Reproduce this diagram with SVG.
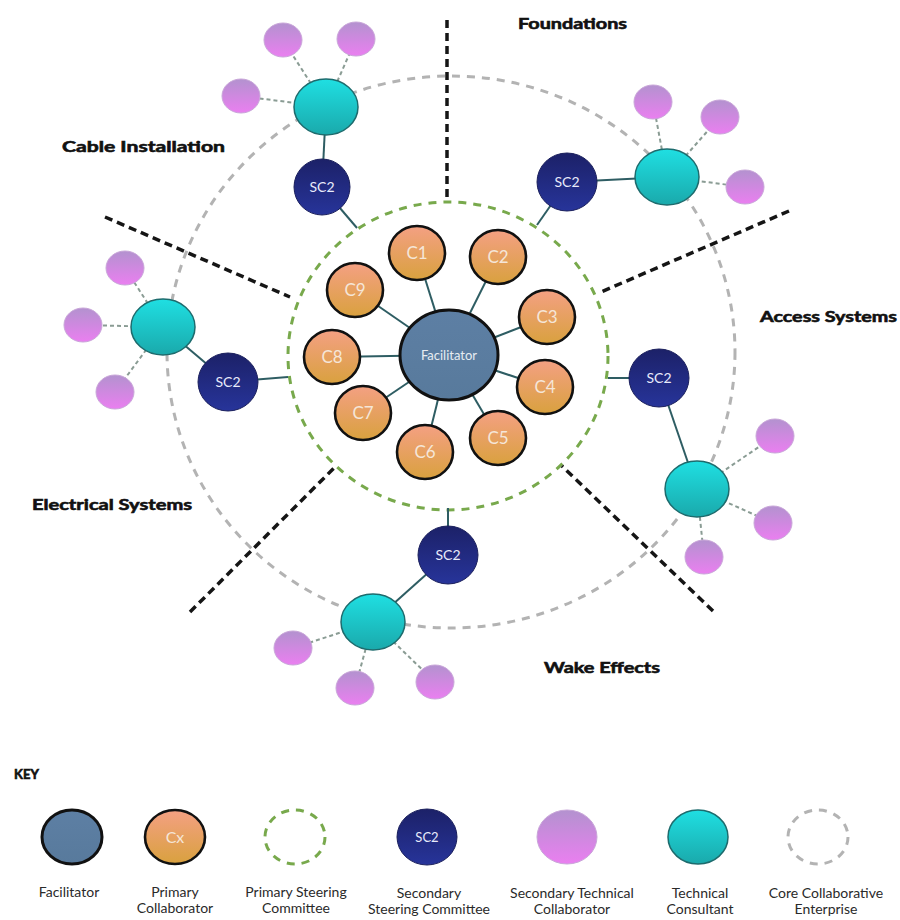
<svg xmlns="http://www.w3.org/2000/svg" width="900" height="920" viewBox="0 0 900 920">
  <defs>
    <linearGradient id="gCollab" x1="0" y1="0" x2="0" y2="1">
      <stop offset="0" stop-color="#f4a083"/>
      <stop offset="1" stop-color="#d9a13e"/>
    </linearGradient>
    <linearGradient id="gFacil" x1="0" y1="0" x2="0" y2="1">
      <stop offset="0" stop-color="#5d7fa4"/>
      <stop offset="1" stop-color="#587a9c"/>
    </linearGradient>
    <linearGradient id="gSC" x1="0" y1="0" x2="0" y2="1">
      <stop offset="0" stop-color="#1c2168"/>
      <stop offset="1" stop-color="#27349a"/>
    </linearGradient>
    <linearGradient id="gTeal" x1="0" y1="0" x2="0" y2="1">
      <stop offset="0" stop-color="#1fdfe2"/>
      <stop offset="1" stop-color="#1aa9ab"/>
    </linearGradient>
    <linearGradient id="gPink" x1="0" y1="0" x2="0" y2="1">
      <stop offset="0" stop-color="#b392cf"/>
      <stop offset="1" stop-color="#ea7ff0"/>
    </linearGradient>
  </defs>
  <style>
    .facil { fill: url(#gFacil); stroke: #111; stroke-width: 3; }
    .collab { fill: url(#gCollab); stroke: #111; stroke-width: 2.6; }
    .sc { fill: url(#gSC); stroke: #1a1f5c; stroke-width: 1; }
    .teal { fill: url(#gTeal); stroke: #1d6b6d; stroke-width: 1.5; }
    .pink { fill: url(#gPink); stroke: #c9a6d9; stroke-width: 1; }
    .psc { fill: none; stroke: #78a94c; stroke-width: 3; stroke-dasharray: 8 7; }
    .cce { fill: none; stroke: #b3b3b3; stroke-width: 3; stroke-dasharray: 8 7; }
    .divider { stroke: #151515; stroke-width: 3.5; stroke-dasharray: 8 5; fill: none; }
    .link { stroke: #2e5d63; stroke-width: 2; fill: none; }
    .dlink { stroke: #8a9c94; stroke-width: 2; stroke-dasharray: 4 3; fill: none; }
    .ctext { font-family: "Lato", "Liberation Sans", sans-serif; font-size: 17px; fill: #f5e6d8; text-anchor: middle; }
    .sctext { font-family: "Lato", "Liberation Sans", sans-serif; font-size: 14px; fill: #e8ebfb; text-anchor: middle; }
    .ftext { font-family: "Lato", "Liberation Sans", sans-serif; font-size: 13px; fill: #e6ecf2; text-anchor: middle; }
    .sect { font-family: "Lato", "Liberation Sans", sans-serif; font-size: 15px; font-weight: bold; fill: #111; stroke: #111; stroke-width: 0.6; }
    .key { font-family: "Lato", "Liberation Sans", sans-serif; font-size: 14px; fill: #2a2a2a; text-anchor: middle; }
  </style>

  <!-- enterprise and committee boundaries -->
  <g id="boundaries">
    <ellipse class="cce" cx="451" cy="352" rx="284" ry="276"/>
    <ellipse class="psc" cx="448" cy="356" rx="160" ry="154"/>
  </g>

  <!-- sector dividers -->
  <g id="dividers">
    <line class="divider" x1="447" y1="20" x2="447" y2="200"/>
    <line class="divider" x1="105" y1="217" x2="290" y2="297"/>
    <line class="divider" x1="789" y1="211" x2="601" y2="292"/>
    <line class="divider" x1="190" y1="612" x2="336" y2="466"/>
    <line class="divider" x1="713" y1="611" x2="562" y2="466"/>
  </g>

  <!-- connectors -->
  <g id="connectors">
    <!-- facilitator to primary collaborators -->
    <line class="link" x1="449" y1="355" x2="417" y2="253"/>
    <line class="link" x1="449" y1="355" x2="498" y2="257"/>
    <line class="link" x1="449" y1="355" x2="547" y2="317"/>
    <line class="link" x1="449" y1="355" x2="545" y2="387"/>
    <line class="link" x1="449" y1="355" x2="498" y2="438"/>
    <line class="link" x1="449" y1="355" x2="425" y2="452"/>
    <line class="link" x1="449" y1="355" x2="363" y2="413"/>
    <line class="link" x1="449" y1="355" x2="332" y2="357"/>
    <line class="link" x1="449" y1="355" x2="355" y2="290"/>
    <!-- steering committee to primary committee -->
    <line class="link" x1="322" y1="187" x2="357" y2="228"/>
    <line class="link" x1="567" y1="182" x2="537" y2="225"/>
    <line class="link" x1="228" y1="382" x2="288" y2="377"/>
    <line class="link" x1="659" y1="378" x2="608" y2="378"/>
    <line class="link" x1="448" y1="555" x2="448" y2="508"/>
    <!-- steering committee to technical consultant -->
    <line class="link" x1="322" y1="187" x2="326" y2="107"/>
    <line class="link" x1="567" y1="182" x2="667" y2="177"/>
    <line class="link" x1="228" y1="382" x2="163" y2="327"/>
    <line class="link" x1="659" y1="378" x2="697" y2="489"/>
    <line class="link" x1="448" y1="555" x2="373" y2="622"/>
    <!-- technical consultant to secondary technical collaborators -->
    <line class="dlink" x1="326" y1="107" x2="283" y2="40"/>
    <line class="dlink" x1="326" y1="107" x2="356" y2="39"/>
    <line class="dlink" x1="326" y1="107" x2="241" y2="96"/>
    <line class="dlink" x1="667" y1="177" x2="653" y2="102"/>
    <line class="dlink" x1="667" y1="177" x2="720" y2="117"/>
    <line class="dlink" x1="667" y1="177" x2="745" y2="187"/>
    <line class="dlink" x1="163" y1="327" x2="125" y2="268"/>
    <line class="dlink" x1="163" y1="327" x2="83" y2="325"/>
    <line class="dlink" x1="163" y1="327" x2="115" y2="392"/>
    <line class="dlink" x1="697" y1="489" x2="775" y2="436"/>
    <line class="dlink" x1="697" y1="489" x2="773" y2="523"/>
    <line class="dlink" x1="697" y1="489" x2="704" y2="557"/>
    <line class="dlink" x1="373" y1="622" x2="293" y2="648"/>
    <line class="dlink" x1="373" y1="622" x2="355" y2="688"/>
    <line class="dlink" x1="373" y1="622" x2="435" y2="682"/>
  </g>

  <!-- facilitator -->
  <g id="facilitator">
    <ellipse class="facil" cx="449" cy="355" rx="49" ry="45"/>
    <text class="ftext" x="449" y="360">Facilitator</text>
  </g>

  <!-- primary collaborators -->
  <g id="c1"><ellipse class="collab" cx="417" cy="253" rx="28" ry="27"/><text class="ctext" x="417" y="259">C1</text></g>
  <g id="c2"><ellipse class="collab" cx="498" cy="257" rx="28" ry="27"/><text class="ctext" x="498" y="263">C2</text></g>
  <g id="c3"><ellipse class="collab" cx="547" cy="317" rx="28" ry="27"/><text class="ctext" x="547" y="323">C3</text></g>
  <g id="c4"><ellipse class="collab" cx="545" cy="387" rx="28" ry="27"/><text class="ctext" x="545" y="393">C4</text></g>
  <g id="c5"><ellipse class="collab" cx="498" cy="438" rx="28" ry="27"/><text class="ctext" x="498" y="444">C5</text></g>
  <g id="c6"><ellipse class="collab" cx="425" cy="452" rx="28" ry="27"/><text class="ctext" x="425" y="458">C6</text></g>
  <g id="c7"><ellipse class="collab" cx="363" cy="413" rx="28" ry="27"/><text class="ctext" x="363" y="419">C7</text></g>
  <g id="c8"><ellipse class="collab" cx="332" cy="357" rx="28" ry="27"/><text class="ctext" x="332" y="363">C8</text></g>
  <g id="c9"><ellipse class="collab" cx="355" cy="290" rx="28" ry="27"/><text class="ctext" x="355" y="296">C9</text></g>

  <!-- secondary steering committees -->
  <g id="sc2-cable"><ellipse class="sc" cx="322" cy="187" rx="28" ry="28"/><text class="sctext" x="322" y="192">SC2</text></g>
  <g id="sc2-foundations"><ellipse class="sc" cx="567" cy="182" rx="30" ry="29"/><text class="sctext" x="567" y="187">SC2</text></g>
  <g id="sc2-electrical"><ellipse class="sc" cx="228" cy="382" rx="30" ry="29"/><text class="sctext" x="228" y="387">SC2</text></g>
  <g id="sc2-access"><ellipse class="sc" cx="659" cy="378" rx="30" ry="29"/><text class="sctext" x="659" y="383">SC2</text></g>
  <g id="sc2-wake"><ellipse class="sc" cx="448" cy="555" rx="30" ry="29"/><text class="sctext" x="448" y="560">SC2</text></g>

  <!-- technical consultants -->
  <g id="tc-cable"><ellipse class="teal" cx="326" cy="107" rx="32" ry="28"/></g>
  <g id="tc-foundations"><ellipse class="teal" cx="667" cy="177" rx="32" ry="28"/></g>
  <g id="tc-electrical"><ellipse class="teal" cx="163" cy="327" rx="32" ry="28"/></g>
  <g id="tc-access"><ellipse class="teal" cx="697" cy="489" rx="32" ry="28"/></g>
  <g id="tc-wake"><ellipse class="teal" cx="373" cy="622" rx="32" ry="28"/></g>

  <!-- secondary technical collaborators -->
  <g id="stc-cable-1"><ellipse class="pink" cx="283" cy="40" rx="19" ry="17"/></g>
  <g id="stc-cable-2"><ellipse class="pink" cx="356" cy="39" rx="19" ry="17"/></g>
  <g id="stc-cable-3"><ellipse class="pink" cx="241" cy="96" rx="19" ry="17"/></g>
  <g id="stc-found-1"><ellipse class="pink" cx="653" cy="102" rx="19" ry="17"/></g>
  <g id="stc-found-2"><ellipse class="pink" cx="720" cy="117" rx="19" ry="17"/></g>
  <g id="stc-found-3"><ellipse class="pink" cx="745" cy="187" rx="19" ry="17"/></g>
  <g id="stc-elec-1"><ellipse class="pink" cx="125" cy="268" rx="19" ry="17"/></g>
  <g id="stc-elec-2"><ellipse class="pink" cx="83" cy="325" rx="19" ry="17"/></g>
  <g id="stc-elec-3"><ellipse class="pink" cx="115" cy="392" rx="19" ry="17"/></g>
  <g id="stc-access-1"><ellipse class="pink" cx="775" cy="436" rx="19" ry="17"/></g>
  <g id="stc-access-2"><ellipse class="pink" cx="773" cy="523" rx="19" ry="17"/></g>
  <g id="stc-access-3"><ellipse class="pink" cx="704" cy="557" rx="19" ry="17"/></g>
  <g id="stc-wake-1"><ellipse class="pink" cx="293" cy="648" rx="19" ry="17"/></g>
  <g id="stc-wake-2"><ellipse class="pink" cx="355" cy="688" rx="19" ry="17"/></g>
  <g id="stc-wake-3"><ellipse class="pink" cx="435" cy="682" rx="19" ry="17"/></g>

  <!-- sector labels -->
  <g id="sector-labels">
    <text class="sect" x="518" y="29" textLength="109" lengthAdjust="spacingAndGlyphs">Foundations</text>
    <text class="sect" x="62" y="152" textLength="163" lengthAdjust="spacingAndGlyphs">Cable Installation</text>
    <text class="sect" x="760" y="322" textLength="137" lengthAdjust="spacingAndGlyphs">Access Systems</text>
    <text class="sect" x="32" y="510" textLength="160" lengthAdjust="spacingAndGlyphs">Electrical Systems</text>
    <text class="sect" x="544" y="673" textLength="116" lengthAdjust="spacingAndGlyphs">Wake Effects</text>
  </g>

  <!-- key -->
  <g id="key">
    <text class="sect" x="14" y="779" style="font-size:13px">KEY</text>
    <g id="key-facilitator">
      <ellipse class="facil" cx="72" cy="837" rx="30" ry="27"/>
      <text class="key" x="69" y="897">Facilitator</text>
    </g>
    <g id="key-collaborator">
      <ellipse class="collab" cx="175" cy="837" rx="30" ry="27"/>
      <text class="ctext" x="175" y="843" style="font-size:16px">Cx</text>
      <text class="key" x="175" y="897">Primary</text>
      <text class="key" x="175" y="913">Collaborator</text>
    </g>
    <g id="key-psc">
      <ellipse class="psc" cx="295" cy="837" rx="30" ry="27"/>
      <text class="key" x="296" y="897">Primary Steering</text>
      <text class="key" x="296" y="913">Committee</text>
    </g>
    <g id="key-sc">
      <ellipse class="sc" cx="427" cy="837" rx="30" ry="28"/>
      <text class="sctext" x="427" y="842" style="font-size:13px">SC2</text>
      <text class="key" x="429" y="898">Secondary</text>
      <text class="key" x="429" y="914">Steering Committee</text>
    </g>
    <g id="key-stc">
      <ellipse class="pink" cx="567" cy="837" rx="30" ry="27"/>
      <text class="key" x="572" y="898">Secondary Technical</text>
      <text class="key" x="572" y="914">Collaborator</text>
    </g>
    <g id="key-tc">
      <ellipse class="teal" cx="698" cy="837" rx="30" ry="27"/>
      <text class="key" x="700" y="898">Technical</text>
      <text class="key" x="700" y="914">Consultant</text>
    </g>
    <g id="key-cce">
      <ellipse class="cce" cx="818" cy="837" rx="30" ry="27"/>
      <text class="key" x="826" y="898">Core Collaborative</text>
      <text class="key" x="826" y="914">Enterprise</text>
    </g>
  </g>
</svg>
